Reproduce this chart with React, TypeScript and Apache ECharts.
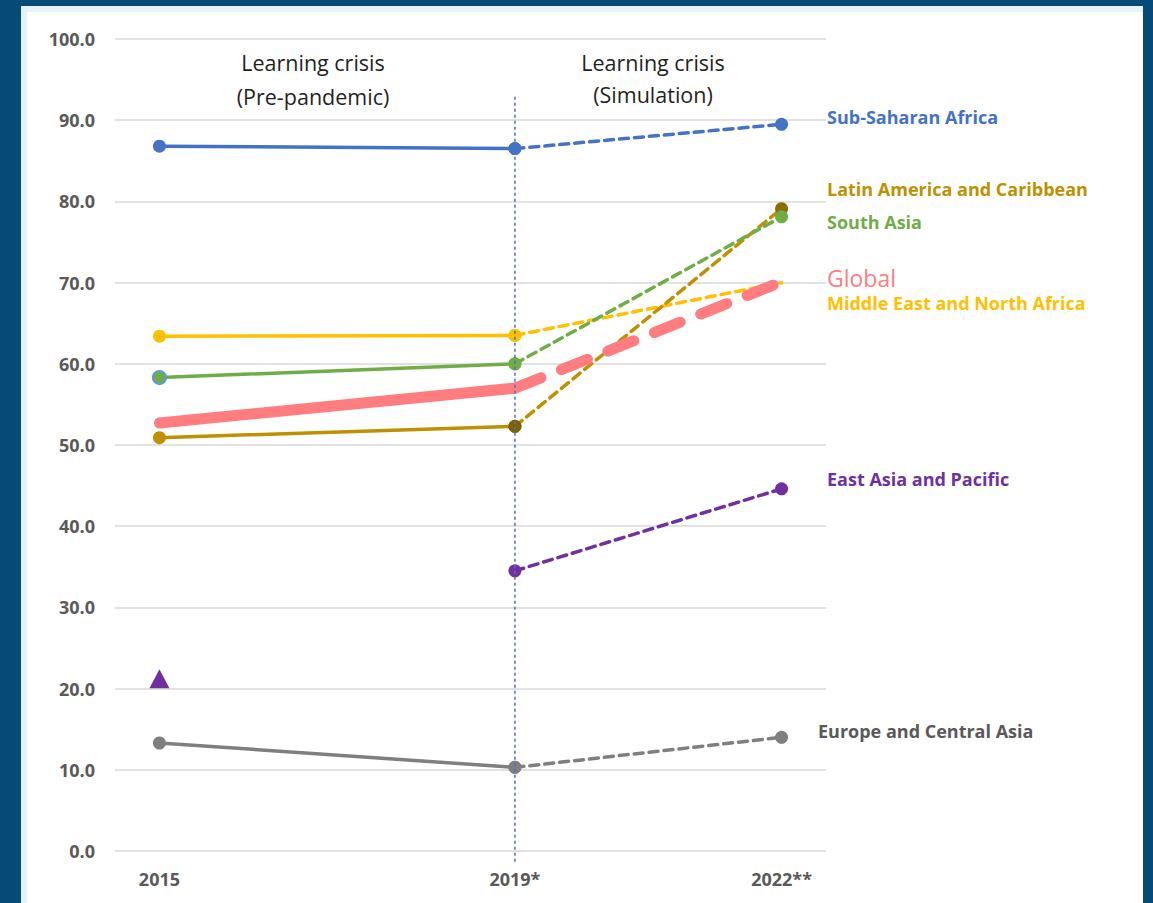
import React, { useEffect, useRef } from "react";
import * as echarts from "echarts";

const years = [2015, 2019, 2022];
const yTicks = [0, 10, 20, 30, 40, 50, 60, 70, 80, 90, 100];
const xTickLabels: Record<number, string> = { 2015: "2015", 2019: "2019*", 2022: "2022**" };

const subSaharan = [86.8, 86.5, 89.5];
const latinAmerica = [50.9, 52.3, 79.1];
const southAsia = [58.3, 60.0, 78.1];
const globalAvg = [52.7, 57.0, 70.1];
const mena = [63.4, 63.5, 70.0];
const eastAsia = [null, 34.5, 44.6];
const eastAsia2015 = [21.2];
const europe = [13.3, 10.3, 14.0];

const regionLabels = [
  { text: "Sub-Saharan Africa", color: "#4472c4", x: 827, y: 117, size: 18, bold: true },
  { text: "Latin America and Caribbean", color: "#bf9000", x: 827, y: 189, size: 18, bold: true },
  { text: "South Asia", color: "#70ad47", x: 827, y: 222, size: 18, bold: true },
  { text: "Global", color: "#ff7c80", x: 827, y: 278, size: 23, bold: false },
  { text: "Middle East and North Africa", color: "#ffc000", x: 827, y: 303, size: 18, bold: true },
  { text: "East Asia and Pacific", color: "#7030a0", x: 827, y: 479, size: 18, bold: true },
  { text: "Europe and Central Asia", color: "#595959", x: 818, y: 731, size: 18, bold: true },
];

const FONT = "'Open Sans', sans-serif";

function pairSeries(
  name: string,
  vals: (number | null)[],
  color: string,
  opts: {
    width?: number;
    dash?: number[];
    symbolSize?: number;
    markerColors?: (string | undefined)[];
    noSymbol?: boolean;
    borderColors?: (string | undefined)[];
    hideMarker?: number[];
  } = {}
) {
  const width = opts.width ?? 3.5;
  const mk = (i: number) => {
    const v = vals[i];
    if (v == null) return null;
    const item: any = { value: [years[i], v] };
    const c = opts.markerColors?.[i];
    const b = opts.borderColors?.[i];
    if (c || b) item.itemStyle = { color: c ?? color, borderColor: b ?? c ?? color, borderWidth: b ? 2 : 0 };
    if (opts.hideMarker?.includes(i)) item.symbol = "none";
    return item;
  };
  const base = {
    type: "line",
    symbol: opts.noSymbol ? "none" : "circle",
    symbolSize: opts.symbolSize ?? 13,
    itemStyle: { color },
    clip: false,
  };
  const out: any[] = [];
  if (vals[0] != null && vals[1] != null) {
    out.push({
      ...base,
      name: name + " solid",
      data: [mk(0), mk(1)],
      lineStyle: { color, width, cap: "round" },
    });
  }
  out.push({
    ...base,
    name: name + " dashed",
    data: [mk(1), mk(2)],
    lineStyle: { color, width, type: opts.dash ?? [9, 6], cap: "round" },
  });
  return out;
}

export default function App() {
  const ref = useRef<HTMLDivElement>(null);
  useEffect(() => {
    if (!ref.current) return;
    const chart = echarts.init(ref.current, undefined, { renderer: "svg" });
    const series: any[] = [
      ...pairSeries("MENA", mena, "#ffc000", { hideMarker: [2] }),
      ...pairSeries("Latin America", latinAmerica, "#bf9000", {
        markerColors: [undefined, "#7f6000", "#8c6d00"],
      }),
      ...pairSeries("South Asia", southAsia, "#70ad47", {
        borderColors: ["#5b9bd5", undefined, undefined],
      }),
      ...pairSeries("Global", globalAvg, "#ff7c80", { width: 11, dash: [28, 22], noSymbol: true }),
      ...pairSeries("Sub-Saharan", subSaharan, "#4472c4"),
      ...pairSeries("East Asia", eastAsia, "#7030a0"),
      {
        type: "scatter",
        name: "East Asia 2015",
        symbol: "triangle",
        symbolSize: [20, 19],
        itemStyle: { color: "#7030a0", opacity: 1 },
        data: eastAsia2015.map((v) => [2015, v]),
      },
      ...pairSeries("Europe", europe, "#7f7f7f"),
      {
        type: "line",
        name: "divider",
        symbol: "none",
        clip: false,
        z: 5,
        lineStyle: { color: "#4472c4", width: 1.5, type: [3, 3] },
        data: [
          [2019, 92.9],
          [2019, -1.7],
        ],
      },
    ];

    const headerStyle = { fill: "#1f1f1f", font: `21.5px ${FONT}`, textAlign: "center", textVerticalAlign: "middle" };
    const graphics: any[] = [
      { type: "rect", shape: { x: 21, y: 6, width: 1122, height: 897 }, style: { fill: "#e6f3fb" }, z: -10 },
      { type: "rect", shape: { x: 27, y: 12, width: 1116, height: 891 }, style: { fill: "#ffffff" }, z: -9 },
      { type: "text", x: 313, y: 62, style: { text: "Learning crisis", ...headerStyle } },
      { type: "text", x: 313, y: 96, style: { text: "(Pre-pandemic)", ...headerStyle } },
      { type: "text", x: 653, y: 62, style: { text: "Learning crisis", ...headerStyle } },
      { type: "text", x: 653, y: 94, style: { text: "(Simulation)", ...headerStyle } },
      ...regionLabels.map((l) => ({
        type: "text",
        x: l.x,
        y: l.y,
        z: 20,
        style: {
          text: l.text,
          fill: l.color,
          font: `${l.bold ? "bold " : ""}${l.size}px ${FONT}`,
          textAlign: "left",
          textVerticalAlign: "middle",
        },
      })),
    ];

    chart.setOption({
      animation: false,
      backgroundColor: "#064a78",
      grid: { left: 115, right: 327, top: 39, bottom: 52, containLabel: false },
      xAxis: {
        type: "value",
        min: 2014.5,
        max: 2022.5,
        interval: 0.5,
        axisLine: { show: false },
        axisTick: { show: false },
        splitLine: { show: false },
        axisLabel: {
          margin: 19,
          showMinLabel: true,
          showMaxLabel: true,
          color: "#595959",
          fontFamily: FONT,
          fontWeight: "bold",
          fontSize: 18,
          formatter: (v: number) => xTickLabels[v] ?? "",
        },
      },
      yAxis: {
        type: "value",
        min: 0,
        max: 100,
        interval: 10,
        axisLine: { show: false },
        axisTick: { show: false },
        splitLine: { lineStyle: { color: "#d9d9d9", width: 1.5 } },
        axisLabel: {
          margin: 20,
          color: "#595959",
          fontFamily: FONT,
          fontWeight: "bold",
          fontSize: 18,
          formatter: (v: number) => (yTicks.includes(v) ? v.toFixed(1) : ""),
        },
      },
      graphic: graphics,
      series,
    });
    return () => chart.dispose();
  }, []);
  return (
    <div
      ref={ref}
      style={{ position: "absolute", left: 0, top: 0, width: 1153, height: 903 }}
    />
  );
}
